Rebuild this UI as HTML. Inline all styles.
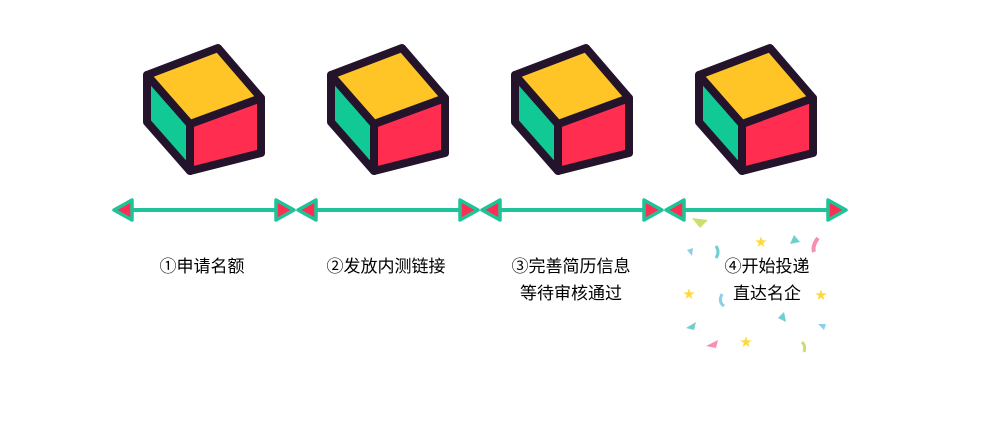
<!DOCTYPE html>
<html><head><meta charset="utf-8"><style>
html,body{margin:0;padding:0;background:#fff;}
body{width:985px;height:446px;overflow:hidden;position:relative;font-family:"Liberation Sans","Noto Sans CJK SC",sans-serif;}
.t{position:absolute;font-size:17px;color:#000;text-align:center;line-height:27px;width:180px;}
</style></head><body>
<svg width="985" height="446" style="position:absolute;left:0;top:0">
<defs>
<g id="cube" stroke="#24142b" stroke-width="8" stroke-linejoin="round">
<polygon points="147,75 190,124 190,171 147,122" fill="#10c995"/>
<polygon points="190,124 261,98 261,153 190,171" fill="#ff2e50"/>
<polygon points="147,75 218,48 261,98 190,124" fill="#ffc526"/>
</g>
<g id="seg">
<line x1="120" y1="210" x2="288" y2="210" stroke="#1fc39a" stroke-width="4"/>
<polygon points="114,210 132,200 132,220" fill="#ff2e50" stroke="#1fc39a" stroke-width="3.5" stroke-linejoin="round"/>
<polygon points="294,210 276,200 276,220" fill="#ff2e50" stroke="#1fc39a" stroke-width="3.5" stroke-linejoin="round"/>
</g>
</defs>
<use href="#cube"/><use href="#cube" x="184"/><use href="#cube" x="368"/><use href="#cube" x="552"/>
<use href="#seg"/><use href="#seg" x="184"/><use href="#seg" x="368"/><use href="#seg" x="552"/>
<g>
<polygon points="692,218 708,220 700,228" fill="#c8e070"/>
<polygon points="794,235 800,242 790,244" fill="#6fcfcf"/>
<path d="M818,238 q-6,8 -4,14" stroke="#f58fb5" stroke-width="4" fill="none"/>
<polygon points="687,250 693,248 692,256" fill="#8ecfe8"/>
<path d="M716,246 q4,6 0,12" stroke="#6fcfcf" stroke-width="3" fill="none"/>
<text x="755" y="246" font-size="12" fill="#ffd93a">★</text>
<text x="683" y="298" font-size="12" fill="#ffd93a">★</text>
<text x="815" y="299" font-size="12" fill="#ffd93a">★</text>
<text x="740" y="346" font-size="12" fill="#ffd93a">★</text>
<path d="M722,294 q-4,8 2,12" stroke="#8ecfe8" stroke-width="3" fill="none"/>
<polygon points="778,318 784,312 786,322" fill="#6fcfcf"/>
<polygon points="686,328 696,322 694,330" fill="#6fcfcf"/>
<polygon points="818,324 826,324 824,330" fill="#8ecfe8"/>
<polygon points="706,346 718,340 716,348" fill="#f58fb5"/>
<path d="M802,342 q4,4 2,10" stroke="#c8e070" stroke-width="3" fill="none"/>
</g>
</svg>
<div class="t" style="left:112px;top:253px">①申请名额</div>
<div class="t" style="left:296px;top:253px">②发放内测链接</div>
<div class="t" style="left:481px;top:253px">③完善简历信息<br>等待审核通过</div>
<div class="t" style="left:677px;top:253px">④开始投递<br>直达名企</div>
</body></html>
